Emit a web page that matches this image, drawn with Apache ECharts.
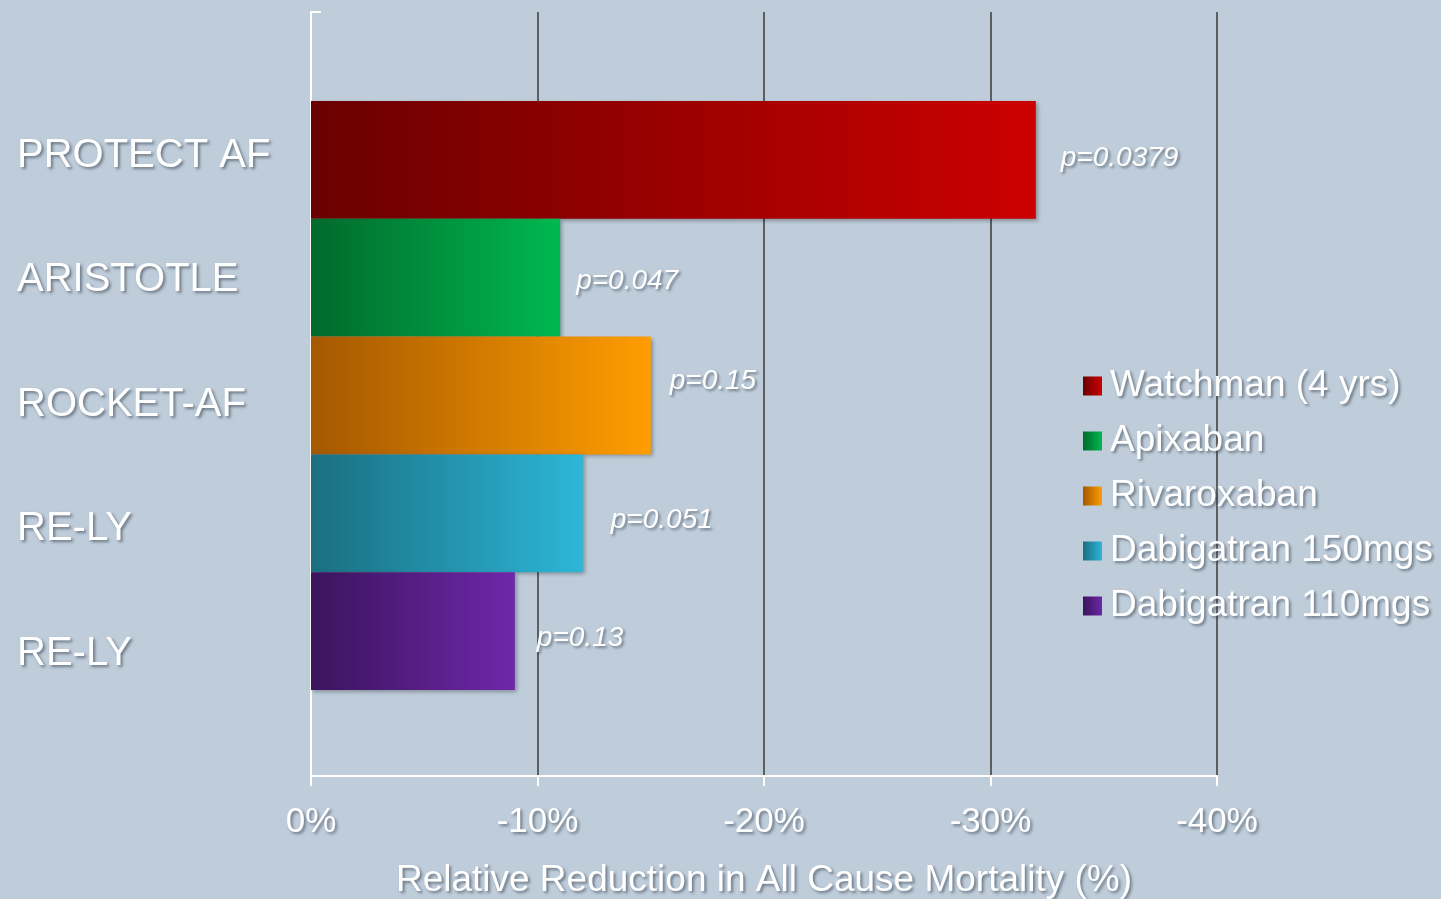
<!DOCTYPE html>
<html>
<head>
<meta charset="utf-8">
<script src="https://cdn.jsdelivr.net/npm/echarts@6/dist/echarts.min.js"></script>
<style>
  html, body { margin: 0; padding: 0; background: #bfcddb; }
  #chart { width: 1441px; height: 899px; }
</style>
</head>
<body>
<div id="chart"></div>
<script>
// ---- data ----
const categories = ['PROTECT AF', 'ARISTOTLE', 'ROCKET-AF', 'RE-LY', 'RE-LY'];
const seriesNames = ['Watchman (4 yrs)', 'Apixaban', 'Rivaroxaban', 'Dabigatran 150mgs', 'Dabigatran 110mgs'];
const values = [-32, -11, -15, -12, -9];
const pValues = ['p=0.0379', 'p=0.047', 'p=0.15', 'p=0.051', 'p=0.13'];
const xTicks = { min: -40, max: 0, interval: 10 };
const axisTitle = 'Relative Reduction in All Cause Mortality (%)';

// ---- styles ----
const gradients = [
  ['#6a0000', '#cc0000'],
  ['#006a2c', '#00b850'],
  ['#a45800', '#ff9d00'],
  ['#1b6e80', '#2cb6d8'],
  ['#3a145c', '#6f27aa']
];
const labelOffsets = [[25, -2], [16, 4], [19, -14], [28, 7], [22, 7]];
const shadow = { textShadowColor: 'rgba(40,50,60,0.55)', textShadowBlur: 3, textShadowOffsetX: 2, textShadowOffsetY: 2 };
const FONT = '"Liberation Sans", Arial, sans-serif';

const series = seriesNames.map((name, i) => ({
  name: name,
  type: 'bar',
  xAxisIndex: 1,
  yAxisIndex: 1,
  stack: 'all',
  barCategoryGap: '0%',
  itemStyle: {
    color: new echarts.graphic.LinearGradient(0, 0, 1, 0, [
      { offset: 0, color: gradients[i][0] },
      { offset: 1, color: gradients[i][1] }
    ]),
    shadowColor: 'rgba(0,0,0,0.3)',
    shadowBlur: 4,
    shadowOffsetX: 2,
    shadowOffsetY: 2
  },
  label: {
    show: true,
    position: 'right',
    distance: 0,
    offset: [labelOffsets[i][0], labelOffsets[i][1]],
    formatter: () => pValues[i],
    color: '#ffffff',
    fontStyle: 'italic',
    fontSize: 28,
    fontFamily: FONT,
    ...shadow
  },
  data: categories.map((c, j) => (j === i ? values[i] : '-'))
}));

const gridBase = { left: 311, right: 224, outerBoundsMode: 'none', containLabel: false };

const chart = echarts.init(document.getElementById('chart'), null, { renderer: 'canvas' });
chart.setOption({
  backgroundColor: '#bfcddb',
  animation: false,
  legend: {
    orient: 'vertical',
    left: 1078,
    top: 361,
    icon: 'rect',
    itemWidth: 19,
    itemHeight: 19,
    itemGap: 15,
    data: seriesNames,
    textStyle: {
      color: '#ffffff',
      fontSize: 37,
      lineHeight: 40,
      fontFamily: FONT,
      padding: [0, 0, 0, 3],
      ...shadow
    }
  },
  grid: [
    { ...gridBase, top: 12, bottom: 123 },
    { ...gridBase, top: 101, bottom: 209 },
    { ...gridBase, top: 93.25, height: 622.5 }
  ],
  xAxis: [
    {
      gridIndex: 0,
      type: 'value',
      inverse: true,
      min: xTicks.min,
      max: xTicks.max,
      interval: xTicks.interval,
      axisLine: { show: true, lineStyle: { color: '#ffffff', width: 2 } },
      axisTick: { show: true, length: 10, lineStyle: { color: '#ffffff', width: 2 } },
      splitLine: { show: true, lineStyle: { color: '#3a3a3a', width: 1.5 } },
      axisLabel: {
        color: '#ffffff',
        fontSize: 35,
        fontFamily: FONT,
        margin: 29,
        formatter: '{value}%',
        ...shadow
      },
      name: axisTitle,
      nameLocation: 'middle',
      nameGap: 86,
      nameTextStyle: {
        color: '#ffffff',
        fontSize: 37,
        fontFamily: FONT,
        ...shadow
      }
    },
    {
      gridIndex: 1,
      type: 'value',
      inverse: true,
      min: xTicks.min,
      max: xTicks.max,
      interval: xTicks.interval,
      show: false
    },
    {
      gridIndex: 2,
      type: 'value',
      min: 0,
      max: 1,
      show: false
    }
  ],
  yAxis: [
    {
      gridIndex: 0,
      type: 'category',
      data: [''],
      boundaryGap: true,
      axisLine: { show: true, lineStyle: { color: '#ffffff', width: 2 } },
      axisTick: { show: true, inside: true, length: 10, lineStyle: { color: '#ffffff', width: 2 } },
      axisLabel: { show: false },
      splitLine: { show: false }
    },
    {
      gridIndex: 1,
      type: 'category',
      data: categories,
      inverse: true,
      show: false
    },
    {
      gridIndex: 2,
      type: 'category',
      data: categories,
      inverse: true,
      axisLine: { show: false },
      axisTick: { show: false },
      splitLine: { show: false },
      axisLabel: {
        align: 'left',
        margin: 294,
        color: '#ffffff',
        fontSize: 40,
        fontFamily: FONT,
        ...shadow
      }
    }
  ],
  series: series
});
</script>
</body>
</html>
